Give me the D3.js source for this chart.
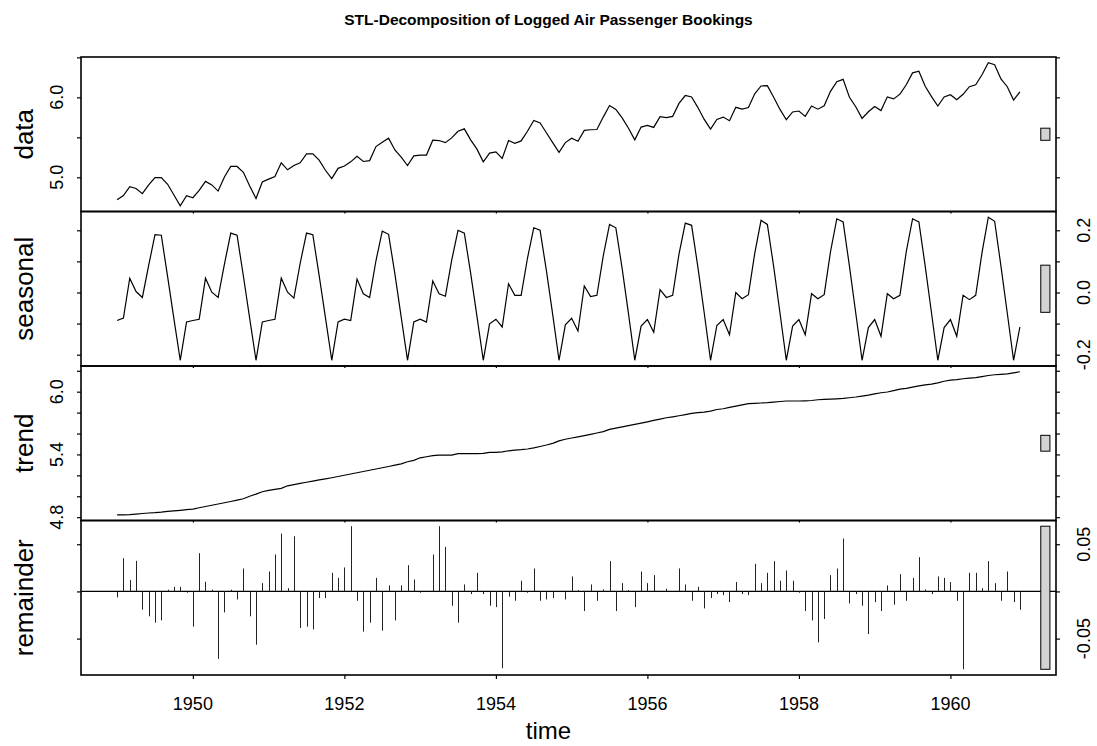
<!DOCTYPE html>
<html>
<head>
<meta charset="utf-8">
<script src="https://cdn.jsdelivr.net/npm/d3@7"></script>
<style>
body { margin: 0; background: #fff; }
svg { display: block; }
text { font-family: "Liberation Sans", Arial, sans-serif; fill: #000; }
</style>
</head>
<body>
<svg width="1097" height="746"></svg>
<script>
// monthly series, Jan 1949 - Dec 1960
const startYear = 1949;
const freq = 12;

const dataVals = [
  4.718, 4.771, 4.883, 4.860, 4.796, 4.905, 4.997, 4.997, 4.913, 4.779, 4.644, 4.771,
  4.745, 4.836, 4.949, 4.905, 4.828, 5.004, 5.136, 5.136, 5.063, 4.890, 4.736, 4.942,
  4.977, 5.011, 5.182, 5.094, 5.147, 5.182, 5.293, 5.293, 5.215, 5.088, 4.984, 5.112,
  5.142, 5.193, 5.263, 5.198, 5.209, 5.384, 5.438, 5.489, 5.342, 5.252, 5.147, 5.268,
  5.278, 5.278, 5.464, 5.460, 5.434, 5.493, 5.576, 5.606, 5.468, 5.352, 5.193, 5.303,
  5.318, 5.236, 5.460, 5.425, 5.455, 5.576, 5.710, 5.680, 5.557, 5.434, 5.313, 5.434,
  5.489, 5.451, 5.587, 5.595, 5.598, 5.753, 5.897, 5.849, 5.743, 5.613, 5.468, 5.628,
  5.649, 5.624, 5.759, 5.746, 5.762, 5.924, 6.023, 6.004, 5.872, 5.724, 5.602, 5.724,
  5.753, 5.707, 5.875, 5.852, 5.872, 6.045, 6.142, 6.146, 6.001, 5.849, 5.720, 5.817,
  5.829, 5.762, 5.892, 5.852, 5.894, 6.075, 6.196, 6.225, 6.001, 5.883, 5.737, 5.820,
  5.886, 5.835, 6.006, 5.981, 6.040, 6.157, 6.306, 6.326, 6.138, 6.009, 5.892, 6.004,
  6.033, 5.969, 6.038, 6.133, 6.157, 6.282, 6.433, 6.407, 6.230, 6.133, 5.966, 6.068
];

const seasonalVals = [
  -0.090, -0.082, 0.046, 0.003, -0.016, 0.087, 0.186, 0.184, 0.051, -0.085, -0.218, -0.095,
  -0.090, -0.086, 0.046, 0.001, -0.016, 0.091, 0.191, 0.184, 0.053, -0.083, -0.218, -0.095,
  -0.090, -0.086, 0.046, 0.001, -0.018, 0.094, 0.191, 0.186, 0.055, -0.081, -0.218, -0.095,
  -0.086, -0.090, 0.043, -0.004, -0.016, 0.102, 0.197, 0.187, 0.060, -0.079, -0.218, -0.095,
  -0.086, -0.095, 0.037, -0.004, -0.012, 0.104, 0.200, 0.191, 0.062, -0.077, -0.218, -0.101,
  -0.086, -0.111, 0.028, -0.009, -0.009, 0.110, 0.208, 0.200, 0.070, -0.071, -0.218, -0.104,
  -0.083, -0.124, 0.021, -0.013, -0.009, 0.117, 0.219, 0.208, 0.077, -0.068, -0.218, -0.108,
  -0.087, -0.128, 0.009, -0.016, -0.009, 0.123, 0.223, 0.216, 0.081, -0.066, -0.218, -0.106,
  -0.087, -0.136, 0.000, -0.020, -0.007, 0.126, 0.232, 0.219, 0.083, -0.066, -0.218, -0.108,
  -0.087, -0.136, -0.004, -0.020, -0.007, 0.131, 0.237, 0.227, 0.085, -0.066, -0.218, -0.113,
  -0.087, -0.141, -0.004, -0.020, -0.009, 0.131, 0.237, 0.227, 0.085, -0.066, -0.218, -0.113,
  -0.087, -0.141, -0.009, -0.023, -0.009, 0.128, 0.242, 0.229, 0.085, -0.066, -0.218, -0.111
];

const trendVals = [
  4.823, 4.823, 4.825, 4.830, 4.835, 4.840, 4.843, 4.848, 4.855, 4.860, 4.866, 4.872,
  4.877, 4.890, 4.902, 4.914, 4.926, 4.938, 4.950, 4.963, 4.976, 5.000, 5.020, 5.043,
  5.056, 5.066, 5.075, 5.100, 5.112, 5.123, 5.134, 5.145, 5.156, 5.166, 5.177, 5.189,
  5.201, 5.213, 5.225, 5.237, 5.249, 5.261, 5.273, 5.285, 5.297, 5.310, 5.330, 5.343,
  5.368, 5.378, 5.388, 5.394, 5.394, 5.394, 5.407, 5.407, 5.407, 5.407, 5.410, 5.419,
  5.419, 5.425, 5.435, 5.442, 5.446, 5.452, 5.462, 5.476, 5.490, 5.506, 5.530, 5.545,
  5.557, 5.568, 5.580, 5.592, 5.605, 5.618, 5.640, 5.652, 5.664, 5.676, 5.687, 5.699,
  5.712, 5.726, 5.738, 5.751, 5.760, 5.770, 5.781, 5.793, 5.799, 5.804, 5.815, 5.830,
  5.837, 5.850, 5.862, 5.874, 5.885, 5.888, 5.892, 5.895, 5.900, 5.906, 5.911, 5.911,
  5.911, 5.913, 5.916, 5.923, 5.926, 5.929, 5.932, 5.936, 5.942, 5.949, 5.958, 5.968,
  5.980, 5.990, 5.997, 6.010, 6.024, 6.032, 6.044, 6.056, 6.066, 6.073, 6.085, 6.100,
  6.110, 6.116, 6.124, 6.130, 6.134, 6.144, 6.155, 6.162, 6.166, 6.170, 6.180, 6.191
];

const remainderVals = [
  -0.0063, 0.0352, 0.0120, 0.0324, -0.0194, -0.0264, -0.0331, -0.0307, 0.0018, 0.0049, 0.0049, -0.0014,
  -0.0373, 0.0405, 0.0102, 0.0018, -0.0715, -0.0222, 0.0018, -0.0085, 0.0243, -0.0264, -0.0564, 0.0088,
  0.0211, 0.0391, 0.0613, 0.0035, 0.0585, -0.0388, -0.0373, -0.0402, -0.0070, -0.0070, 0.0197, 0.0144,
  0.0254, 0.0691, -0.0099, -0.0426, -0.0331, 0.0144, -0.0416, 0.0063, -0.0307, 0.0063, 0.0278, 0.0127,
  -0.0014, 0.0005, 0.0391, 0.0691, 0.0472, -0.0152, -0.0331, 0.0074, -0.0028, 0.0197, -0.0028, -0.0152,
  -0.0166, -0.0814, -0.0056, -0.0099, 0.0113, -0.0014, 0.0243, -0.0099, -0.0085, -0.0070, 0.0003, -0.0085,
  0.0159, 0.0014, -0.0208, 0.0074, -0.0099, 0.0021, 0.0321, -0.0208, 0.0088, 0.0014, -0.0166, 0.0211,
  0.0088, 0.0173, 0.0003, 0.0028, 0.0002, 0.0243, 0.0074, -0.0099, 0.0049, -0.0180, -0.0070, -0.0028,
  -0.0039, -0.0113, 0.0099, -0.0028, -0.0039, 0.0292, 0.0088, 0.0197, 0.0321, 0.0113, 0.0222, 0.0113,
  -0.0014, -0.0208, -0.0307, -0.0539, -0.0292, 0.0173, 0.0243, 0.0560, -0.0127, -0.0028, -0.0152, -0.0451,
  -0.0113, -0.0208, 0.0063, -0.0141, 0.0183, -0.0099, 0.0144, 0.0363, 0.0021, -0.0028, 0.0159, 0.0144,
  0.0099, -0.0099, -0.0825, 0.0197, 0.0197, 0.0035, 0.0321, 0.0088, -0.0099, 0.0211, -0.0113, -0.0194
];

const panelNames = ["data", "seasonal", "trend", "remainder"];
const yearTicks = [1950, 1952, 1954, 1956, 1958, 1960];
const dataTicks = [5.0, 5.5, 6.0, 6.5];
const dataLabels = ["5.0", "6.0"];
const seasonalTicks = [-0.2, -0.1, 0.0, 0.1, 0.2];
const seasonalLabels = ["0.2", "0.0", "-0.2"];
const trendTicks = [4.8, 5.0, 5.2, 5.4, 5.6, 5.8, 6.0, 6.2];
const trendLabels = ["4.8", "5.4", "6.0"];
const remainderTicks = [-0.05, 0.0, 0.05];
const remainderLabels = ["0.05", "-0.05"];

const svg = d3.select("svg");
const plotLeft = 81, plotRight = 1056, plotTop = 57, plotBottom = 675;
const panelH = (plotBottom - plotTop) / 4;

const times = dataVals.map((d, i) => startYear + i / freq);
const tSpan = times[times.length - 1] - times[0];
const x = d3.scaleLinear()
  .domain([times[0] - 0.04 * tSpan, times[times.length - 1] + 0.04 * tSpan])
  .range([plotLeft, plotRight]);

const panels = [
  {vals: dataVals, ticks: dataTicks, labels: dataLabels, side: "left"},
  {vals: seasonalVals, ticks: seasonalTicks, labels: seasonalLabels, side: "right"},
  {vals: trendVals, ticks: trendTicks, labels: trendLabels, side: "left"},
  {vals: remainderVals, ticks: remainderTicks, labels: remainderLabels, side: "right"}
];

// range bars all share the smallest component range
const minRange = d3.min(panels, p => { const e = d3.extent(p.vals); return e[1] - e[0]; });
const dx = (plotRight - plotLeft) / 64;

panels.forEach((p, k) => {
  const y0 = plotTop + k * panelH, y1 = y0 + panelH;
  const ext = d3.extent(p.vals);
  const r = ext[1] - ext[0];
  const y = d3.scaleLinear().domain([ext[0] - 0.04 * r, ext[1] + 0.04 * r]).range([y1, y0]);
  const g = svg.append("g");
  const inDomain = p.ticks.filter(t => t >= y.domain()[0] && t <= y.domain()[1]);

  if (k < 3) {
    const line = d3.line().x((d, i) => x(times[i])).y(d => y(d));
    g.append("path")
      .attr("d", line(p.vals))
      .attr("fill", "none")
      .attr("stroke", "#000")
      .attr("stroke-width", 1.2);
  } else {
    g.append("line")
      .attr("x1", plotLeft).attr("x2", plotRight)
      .attr("y1", y(0)).attr("y2", y(0))
      .attr("stroke", "#000").attr("stroke-width", 1.2);
    g.selectAll("line.bar").data(p.vals).join("line")
      .attr("class", "bar")
      .attr("x1", (d, i) => Math.round(x(times[i])) + 0.5)
      .attr("x2", (d, i) => Math.round(x(times[i])) + 0.5)
      .attr("y1", y(0))
      .attr("y2", d => y(d))
      .attr("stroke", "#222")
      .attr("stroke-width", 1);
  }

  /* grey range bar */
  const mid = (ext[0] + ext[1]) / 2;
  g.append("rect")
    .attr("x", plotRight - dx)
    .attr("width", 0.6 * dx)
    .attr("y", y(mid + minRange / 2))
    .attr("height", y(mid - minRange / 2) - y(mid + minRange / 2))
    .attr("fill", "#d3d3d3")
    .attr("stroke", "#000")
    .attr("stroke-width", 1);

  // axes, ticks only
  const axL = g.append("g").attr("transform", `translate(${plotLeft},0)`)
    .call(d3.axisLeft(y).tickValues(inDomain).tickSize(4).tickFormat(""));
  const axR = g.append("g").attr("transform", `translate(${plotRight},0)`)
    .call(d3.axisRight(y).tickValues(inDomain).tickSize(4).tickFormat(""));
  [axL, axR].forEach(a => { a.select(".domain").remove(); a.selectAll("line").attr("stroke-width", 1.2); });

  const lx = p.side === "left" ? 63 : 1090;
  p.labels.forEach(l => {
    const yy = y(+l);
    g.append("text")
      .attr("x", lx).attr("y", yy)
      .attr("transform", `rotate(-90,${lx},${yy})`)
      .attr("text-anchor", "middle")
      .attr("font-size", 18)
      .text(l);
  });

  g.append("g").attr("transform", `translate(0,${y1})`)
    .call(d3.axisBottom(x).tickValues(yearTicks).tickSize(k < 3 ? 2 : 4).tickFormat(""))
    .call(a => { a.select(".domain").remove(); a.selectAll("line").attr("stroke-width", 1.2); });

  g.append("rect")
    .attr("x", plotLeft).attr("y", y0)
    .attr("width", plotRight - plotLeft).attr("height", panelH)
    .attr("fill", "none").attr("stroke", "#000").attr("stroke-width", 1.6);

  const cy = (y0 + y1) / 2;
  g.append("text")
    .attr("x", 33).attr("y", cy)
    .attr("transform", `rotate(-90,33,${cy})`)
    .attr("text-anchor", "middle")
    .attr("font-size", 26)
    .text(panelNames[k]);
});

yearTicks.forEach(t => {
  svg.append("text")
    .attr("x", x(t)).attr("y", 710)
    .attr("text-anchor", "middle")
    .attr("font-size", 18)
    .text(t);
});

svg.append("text")
  .attr("x", 548.5).attr("y", 739)
  .attr("text-anchor", "middle")
  .attr("font-size", 24)
  .text("time");

svg.append("text")
  .attr("x", 548.5).attr("y", 25)
  .attr("text-anchor", "middle")
  .attr("font-size", 15.5)
  .attr("font-weight", "bold")
  .text("STL-Decomposition of Logged Air Passenger Bookings");
</script>
</body>
</html>
